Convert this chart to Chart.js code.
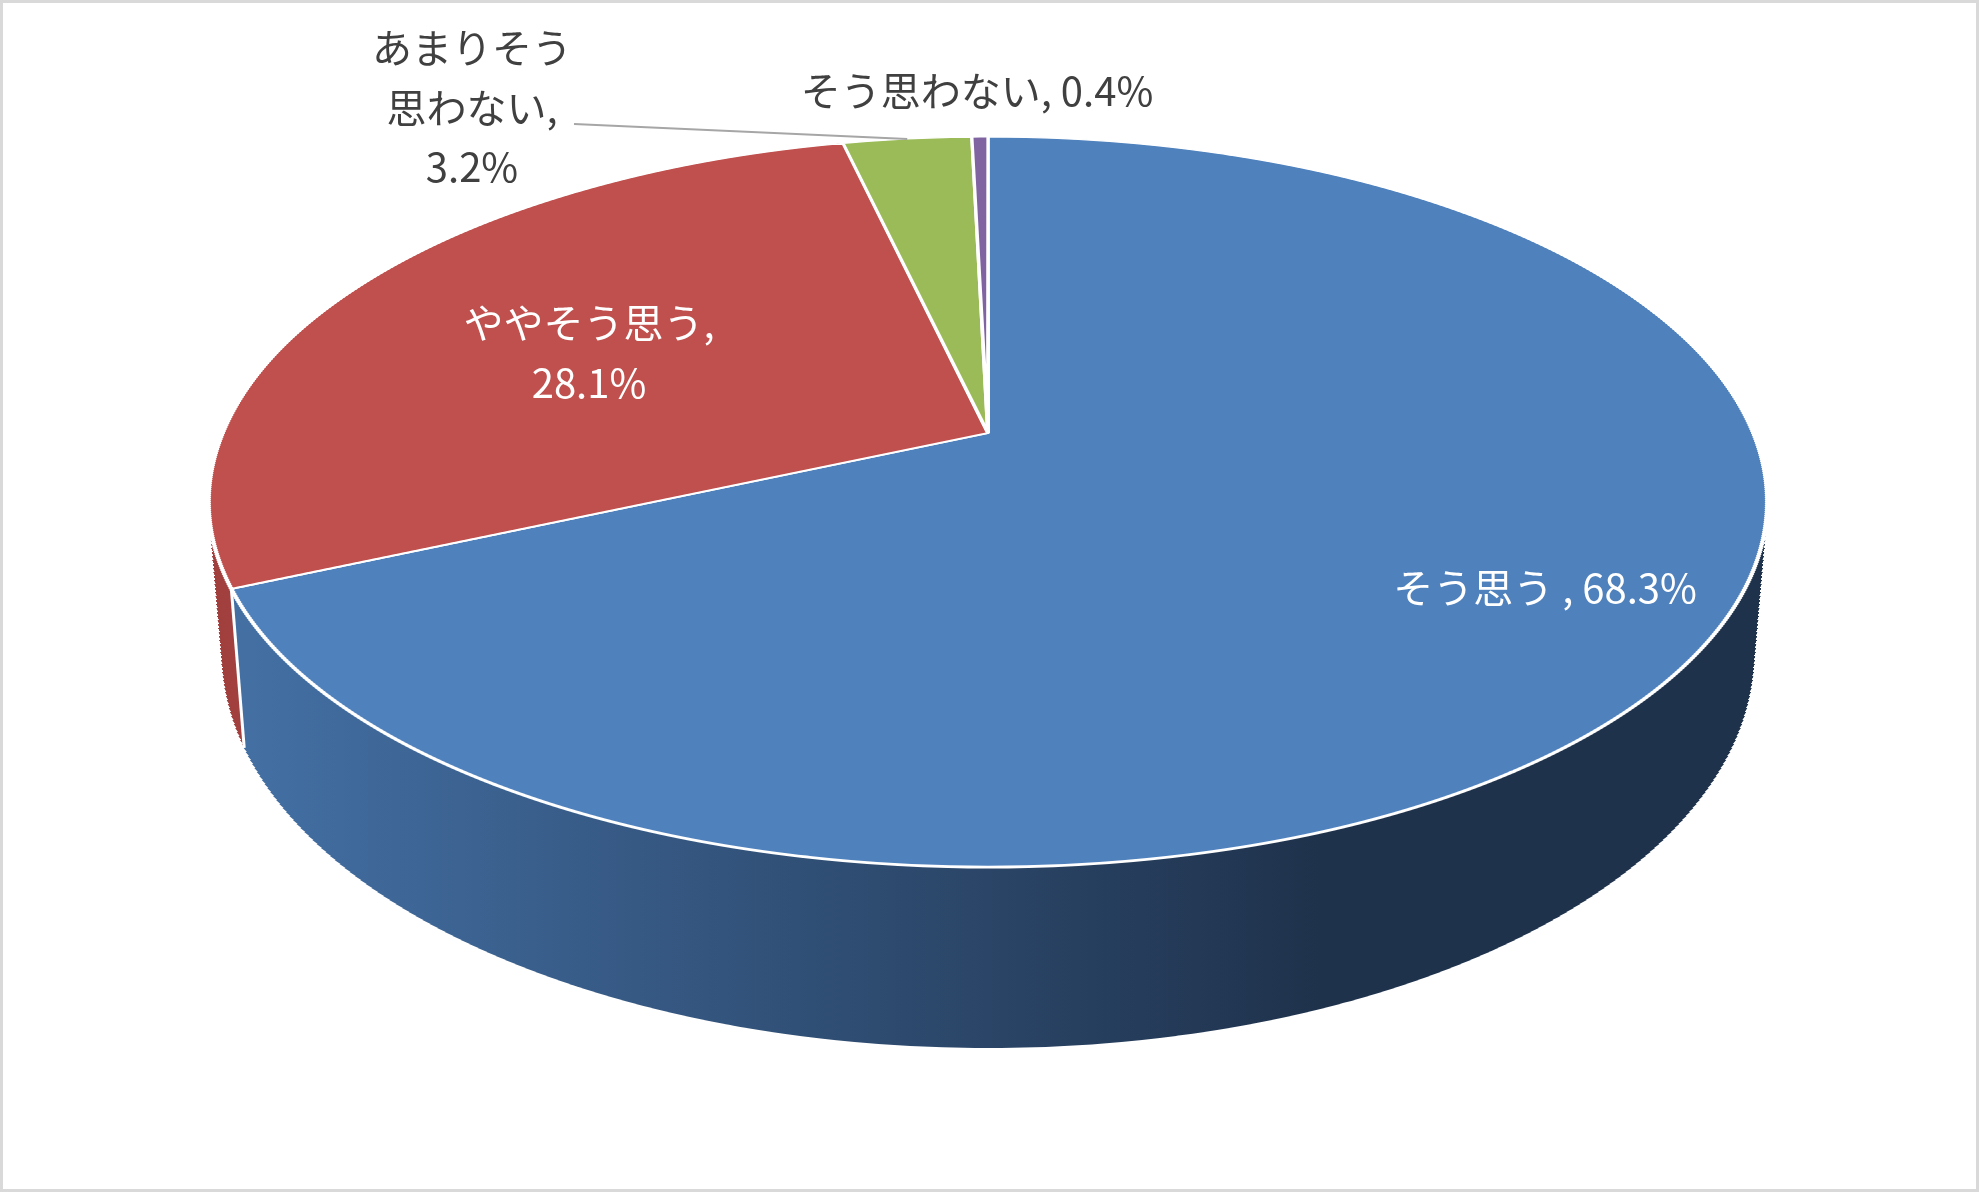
<!DOCTYPE html>
<html lang="ja">
<head>
<meta charset="utf-8">
<title>3D円グラフ</title>
<script src="https://cdn.jsdelivr.net/npm/chart.js@4.4.1/dist/chart.umd.min.js"></script>
<style>
  html, body { margin: 0; padding: 0; background: #fff; }
  #wrap { position: relative; width: 1979px; height: 1192px; overflow: hidden; }
  #frame { position: absolute; left: 0; top: 0; right: 0; bottom: 0; border: 3px solid #d9d9d9; box-sizing: border-box; pointer-events: none; }
</style>
</head>
<body>
<div id="wrap">
  <canvas id="pie"></canvas>
  <div id="frame"></div>
</div>
<script>
const categories = ['そう思う', 'ややそう思う', 'あまりそう思わない', 'そう思わない']
const values = [68.3, 28.1, 3.2, 0.4]

const TOP_COLORS = ['#4f81bd', '#c0504d', '#9bbb59', '#8064a2']
const SIDE_COLORS = [null, '#a1403e', '#7d9847', '#664f83']
const SIDE_GRAD = { x0: 250, x1: 1320, c0: '#436fa3', c1: '#1f324c' }
const FONT = '40px "Noto Sans CJK JP", "Noto Sans", sans-serif'
const DARK_TEXT = '#404040'

// perspective of the top and bottom discs (screen px)
const TOP_PLANE = { cx: 988, yc: 433, A: 765, B: 352, k: 0.189 }
const BOTTOM_PLANE = { cx: 988, yc: 579.5, A: 752, B: 380, k: 0.189 }
const WALL_STEPS = 90
const WALL_GAP = 0.03

function lerpPlane(t) {
  const p = {}
  for (const key of Object.keys(TOP_PLANE)) {
    p[key] = TOP_PLANE[key] + (BOTTOM_PLANE[key] - TOP_PLANE[key]) * t
  }
  return p
}

function project(plane, angle, r) {
  const u = Math.cos(angle) * r
  const v = -Math.sin(angle) * r
  const d = 1 + plane.k * v
  return { x: plane.cx + plane.A * u / d, y: plane.yc - plane.B * v / d }
}

// draw the library's arc elements strip by strip, each strip with its own affine map
function drawFace(chart, plane, y0, y1, step, styleFor) {
  const ctx = chart.ctx
  const arcs = chart.getDatasetMeta(0).data
  const { x: ax, y: ay, outerRadius: R } = arcs[0].getProps(['x', 'y', 'outerRadius'], true)
  for (let y = y0; y < y1; y += step) {
    const ym = y + step / 2
    const w = ym - plane.yc
    const v0 = -w / (plane.B + plane.k * w)
    const d = 1 + plane.k * v0
    const sx = plane.A / d / R
    const sy = plane.B / (d * d) / R
    const ex = plane.cx - sx * ax
    const ey = ym + plane.B * v0 / (d * d) - sy * ay
    ctx.save()
    ctx.beginPath()
    ctx.rect(0, y, chart.width, step)
    ctx.clip()
    ctx.setTransform(sx, 0, 0, sy, ex, ey)
    arcs.forEach((arc, i) => {
      const style = styleFor(i, arc, sx, ex)
      if (!style) return
      const saved = arc.options
      arc.options = Object.assign({}, saved, style)
      arc.draw(ctx)
      arc.options = saved
    })
    ctx.restore()
  }
}

function faceNear(arc) {
  const { startAngle, endAngle } = arc.getProps(['startAngle', 'endAngle'], true)
  return endAngle > 0 && startAngle < Math.PI
}

const perspectivePlugin = {
  id: 'perspective3d',
  beforeDatasetsDraw(chart) {
    const ctx = chart.ctx
    const arcs = chart.getDatasetMeta(0).data
    for (let s = 0; s <= WALL_STEPS; s++) {
      const t = 1 - (1 - WALL_GAP) * s / WALL_STEPS
      const plane = lerpPlane(t)
      const yBot = Math.ceil(plane.yc + plane.B / (1 - plane.k)) + 4
      drawFace(chart, plane, 496, yBot, 4, (i, arc, sx, ex) => {
        if (!faceNear(arc)) return null
        if (i === 0) {
          const g = ctx.createLinearGradient((SIDE_GRAD.x0 - ex) / sx, 0, (SIDE_GRAD.x1 - ex) / sx, 0)
          g.addColorStop(0, SIDE_GRAD.c0)
          g.addColorStop(1, SIDE_GRAD.c1)
          return { backgroundColor: g, borderWidth: 0 }
        }
        return { backgroundColor: SIDE_COLORS[i], borderWidth: 0 }
      })
    }
    // white edges where slice boundaries run down the visible wall
    ctx.save()
    ctx.strokeStyle = '#ffffff'
    ctx.lineWidth = 3
    arcs.forEach((arc) => {
      const { startAngle } = arc.getProps(['startAngle'], true)
      if (Math.sin(startAngle) <= 0.05) return
      const a = project(TOP_PLANE, startAngle, 1)
      const b = project(BOTTOM_PLANE, startAngle, 1)
      ctx.beginPath()
      ctx.moveTo(a.x, a.y)
      ctx.lineTo(b.x, b.y)
      ctx.stroke()
    })
    ctx.restore()
    drawFace(chart, TOP_PLANE, 126, 882, 2, () => ({}))
    return false
  },
}

const LABELS = [
  { x: 1545, y: 588, color: '#ffffff', lines: (c, p) => [`${c} , ${p}`] },
  { x: 589, y: 323, color: '#ffffff', lines: (c, p) => [`${c},`, p] },
  { x: 472, y: 48, color: DARK_TEXT, lines: (c, p) => [c.slice(0, 5), `${c.slice(5)},`, p], leader: { x: 574, y: 124 } },
  { x: 977, y: 91, color: DARK_TEXT, lines: (c, p) => [`${c}, ${p}`] },
]
const LINE_HEIGHT = 59.5

const labelPlugin = {
  id: 'labels3d',
  afterDraw(chart) {
    const ctx = chart.ctx
    const arcs = chart.getDatasetMeta(0).data
    ctx.save()
    ctx.setTransform(1, 0, 0, 1, 0, 0)
    LABELS.forEach((lab, i) => {
      if (lab.leader) {
        const { startAngle, endAngle } = arcs[i].getProps(['startAngle', 'endAngle'], true)
        const end = project(TOP_PLANE, (startAngle + endAngle) / 2, 1)
        ctx.strokeStyle = '#a6a6a6'
        ctx.lineWidth = 2
        ctx.beginPath()
        ctx.moveTo(lab.leader.x, lab.leader.y)
        ctx.lineTo(end.x, end.y)
        ctx.stroke()
      }
      ctx.font = FONT
      ctx.fillStyle = lab.color
      ctx.textAlign = 'center'
      ctx.textBaseline = 'middle'
      const pct = values[i].toFixed(1) + '%'
      lab.lines(categories[i], pct).forEach((line, j) => {
        ctx.fillText(line, lab.x, lab.y + j * LINE_HEIGHT)
      })
    })
    ctx.restore()
  },
}

new Chart(document.getElementById('pie'), {
  type: 'pie',
  data: {
    labels: categories,
    datasets: [{
      data: values,
      backgroundColor: TOP_COLORS,
      borderColor: '#ffffff',
      borderWidth: 3,
    }],
  },
  options: {
    responsive: true,
    maintainAspectRatio: false,
    animation: false,
    devicePixelRatio: 1,
    events: [],
    layout: { padding: 0 },
    plugins: {
      legend: { display: false },
      tooltip: { enabled: false },
    },
  },
  plugins: [perspectivePlugin, labelPlugin],
})
</script>
</body>
</html>
